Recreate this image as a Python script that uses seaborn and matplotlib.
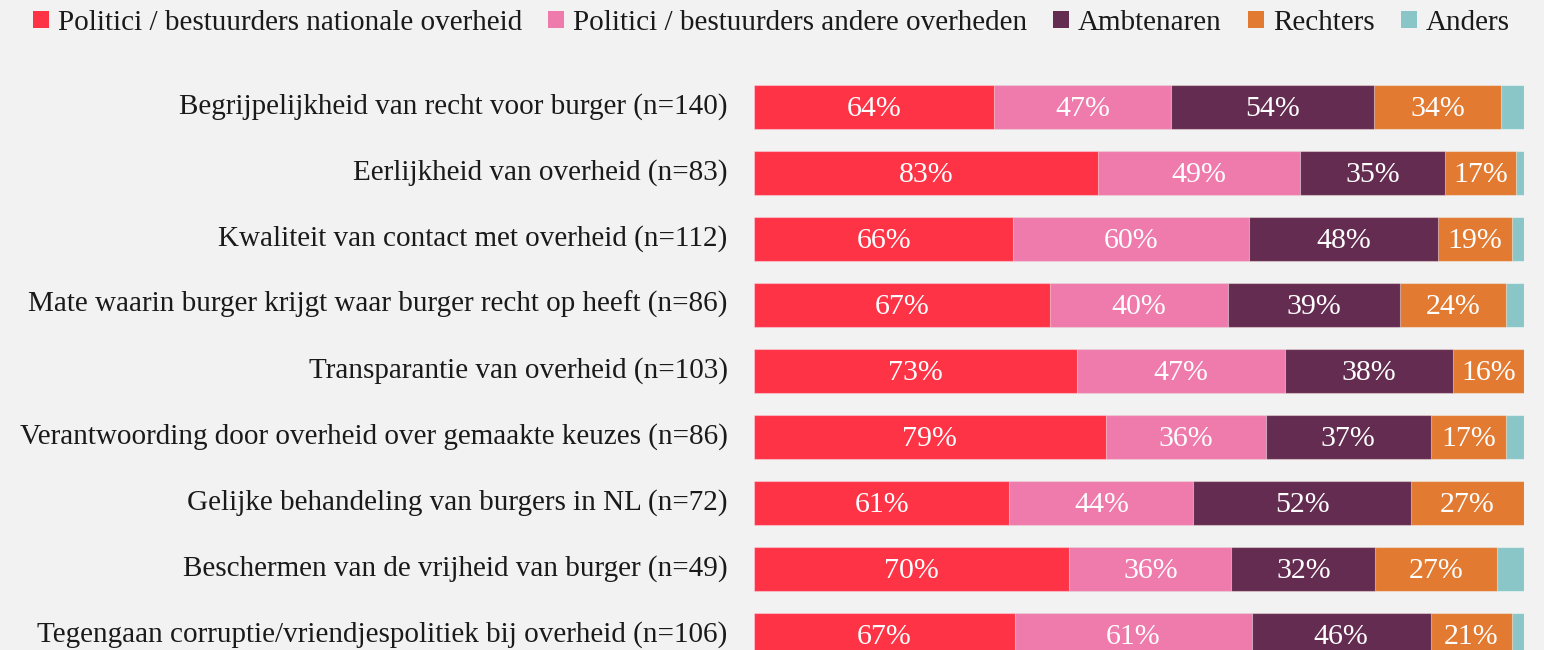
import matplotlib
matplotlib.use("Agg")
import matplotlib.pyplot as plt
from matplotlib.patches import Patch
from matplotlib.transforms import ScaledTranslation
import numpy as np
import pandas as pd
import seaborn as sns

# Onderwerpen (met aantal respondenten)
categories = [
    "Begrijpelijkheid van recht voor burger (n=140)",
    "Eerlijkheid van overheid (n=83)",
    "Kwaliteit van contact met overheid (n=112)",
    "Mate waarin burger krijgt waar burger recht op heeft (n=86)",
    "Transparantie van overheid (n=103)",
    "Verantwoording door overheid over gemaakte keuzes (n=86)",
    "Gelijke behandeling van burgers in NL (n=72)",
    "Beschermen van de vrijheid van burger (n=49)",
    "Tegengaan corruptie/vriendjespolitiek bij overheid (n=106)",
]

series_names = [
    "Politici / bestuurders nationale overheid",
    "Politici / bestuurders andere overheden",
    "Ambtenaren",
    "Rechters",
    "Anders",
]

# Percentages per groep (meerdere antwoorden mogelijk)
nationaal = [64, 83, 66, 67, 73, 79, 61, 70, 67]
andere_overheden = [47, 49, 60, 40, 47, 36, 44, 36, 61]
ambtenaren = [54, 35, 48, 39, 38, 37, 52, 32, 46]
rechters = [34, 17, 19, 24, 16, 17, 27, 27, 21]
anders = [6, 2, 3, 4, 0, 4, 0, 6, 3]

colors = ["#ff3346", "#ee7bac", "#652c51", "#e37a31", "#8ac6c8"]
bg = "#f2f2f2"

values = np.array([nationaal, andere_overheden, ambtenaren, rechters, anders], dtype=float)
shares = values / values.sum(axis=0)
cum = np.cumsum(shares, axis=0)

df = pd.DataFrame({"categorie": categories})
for i, name in enumerate(series_names):
    df[f"cum{i}"] = cum[i]

sns.set_theme(style="white", rc={"axes.facecolor": bg, "figure.facecolor": bg,
                                 "savefig.facecolor": bg})
plt.rcParams["font.family"] = ["Liberation Serif", "DejaVu Serif"]

W, H = 1544, 650
fig = plt.figure(figsize=(W / 100, H / 100), dpi=100)
ax_top = 74
ax = fig.add_axes([754 / W, 0, 770 / W, (H - ax_top) / H])

# Stacked bars: draw cumulative totals from the last series to the first
for i in reversed(range(len(series_names))):
    sns.barplot(data=df, x=f"cum{i}", y="categorie", color=colors[i], orient="h",
                width=0.667, saturation=1, errorbar=None, ax=ax,
                edgecolor=(1, 1, 1, 0.45), linewidth=0.8)

# Value labels in the centre of each segment (not for "Anders")
for r in range(len(categories)):
    for i in range(len(series_names) - 1):
        if values[i, r] <= 0:
            continue
        left = cum[i - 1, r] if i > 0 else 0.0
        ax.text((left + cum[i, r]) / 2, r + 0.14, f"{int(values[i, r])}%", ha="center",
                va="baseline", color="white", fontsize=21.5)

ax.set_xlim(0, 1)
ax.set_ylim(-0.5 + (H - ax_top) / 66, -0.5)
ax.set_xlabel("")
ax.set_ylabel("")
ax.set_xticks([])
ax.tick_params(axis="y", length=0, pad=19, labelsize=21, colors="#1a1a1a")
for s in ax.spines.values():
    s.set_visible(False)
shift = ScaledTranslation(0, 3.5 / 100, fig.dpi_scale_trans)
for lbl in ax.get_yticklabels():
    lbl.set_transform(lbl.get_transform() + shift)

handles = [Patch(facecolor=c, edgecolor="none") for c in colors]
fig.legend(handles, series_names, loc="upper center", bbox_to_anchor=(0.4994, 1.025),
           ncol=5, frameon=False, fontsize=21, handlelength=0.55, handleheight=0.55,
           handletextpad=0.3, columnspacing=0.9, labelcolor="#1a1a1a")

fig.savefig("out.png", dpi=100, facecolor=bg)
